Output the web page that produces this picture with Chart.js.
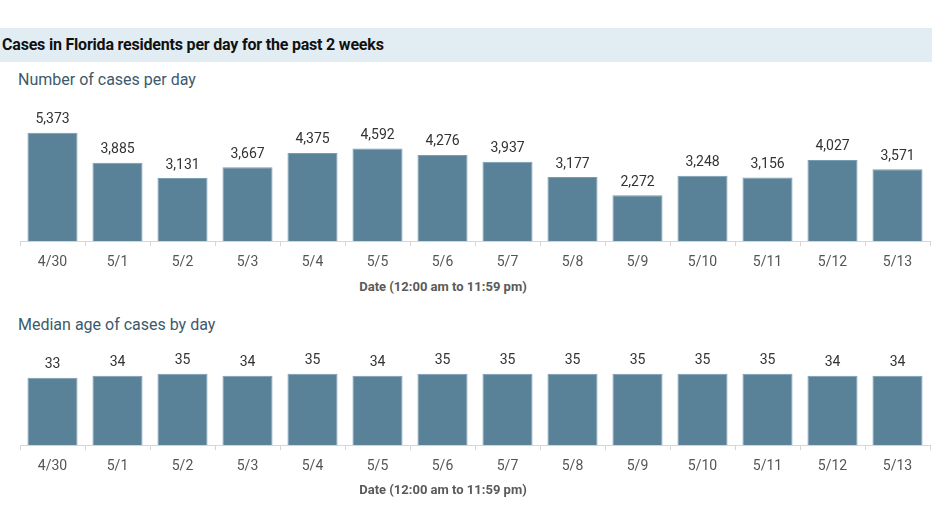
<!DOCTYPE html>
<html>
<head>
<meta charset="utf-8">
<script src="https://cdn.jsdelivr.net/npm/chart.js@4"></script>
<style>
  body { margin: 0; background: #fff; font-family: Roboto, sans-serif; }
  #wrap { position: relative; width: 932px; height: 524px; overflow: hidden; }
  .band { position: absolute; left: 0; top: 28px; width: 932px; height: 34px; background: #e2ecf3; }
  .band span { position: absolute; left: 2px; top: 7px; font-size: 16px; font-weight: bold; color: #111; letter-spacing: -0.2px; }
  .sub { position: absolute; left: 18px; font-size: 16px; color: #3c5a6b; }
  .axt { position: absolute; left: 357px; width: 172px; text-align: center; font-size: 13px; font-weight: bold; color: #5a5a5a; }
  .box { position: absolute; left: 0; width: 932px; }
</style>
</head>
<body>
<div id="wrap">
  <div class="band"><span>Cases in Florida residents per day for the past 2 weeks</span></div>
  <div class="sub" style="top:70px">Number of cases per day</div>
  <div class="box" style="top:87px;height:192px"><canvas id="casesChart"></canvas></div>
  <div class="axt" style="top:279px">Date (12:00 am to 11:59 pm)</div>
  <div class="sub" style="top:315px">Median age of cases by day</div>
  <div class="box" style="top:330px;height:153px"><canvas id="ageChart"></canvas></div>
  <div class="axt" style="top:482px">Date (12:00 am to 11:59 pm)</div>
</div>
<script>
// values
const days = ["4/30","5/1","5/2","5/3","5/4","5/5","5/6","5/7","5/8","5/9","5/10","5/11","5/12","5/13"];
const casesPerDay = [5373,3885,3131,3667,4375,4592,4276,3937,3177,2272,3248,3156,4027,3571];
const medianAge = [33,34,35,34,35,34,35,35,35,35,35,35,34,34];

const barColor = 'rgb(89,129,152)';

// writes the value above each bar
const valueLabels = {
    id: 'valueLabels',
    afterDatasetsDraw(chart) {
        const ctx = chart.ctx;
        const meta = chart.getDatasetMeta(0);
        const vals = chart.data.datasets[0].data;
        ctx.save();
        ctx.font = '14px Roboto, sans-serif';
        ctx.fillStyle = '#333';
        ctx.textAlign = 'center';
        ctx.textBaseline = 'bottom';
        meta.data.forEach(function(bar, i) {
            ctx.fillText(vals[i].toLocaleString('en-US'), bar.x, bar.y - 6);
        });
        ctx.restore();
    }
};

function makeChart(id, values, yMax, topPad) {
    var ctx = document.getElementById(id).getContext('2d');
    return new Chart(ctx, {
        type: 'bar',
        data: {
            labels: days,
            datasets: [{
                data: values,
                backgroundColor: barColor,
                borderColor: 'rgb(120,156,178)',
                borderWidth: 1,
                barPercentage: 0.77,
                categoryPercentage: 1
            }]
        },
        options: {
            responsive: true,
            maintainAspectRatio: false,
            animation: false,
            layout: { padding: { left: 20, right: 2, top: topPad, bottom: 0 } },
            plugins: { legend: { display: false }, tooltip: { enabled: false } },
            scales: {
                y: { display: false, min: 0, max: yMax },
                x: {
                    grid: {
                        offset: true,
                        drawOnChartArea: false,
                        drawTicks: true,
                        tickLength: 5,
                        color: '#d6d6d6'
                    },
                    border: { display: true, color: '#d6d6d6' },
                    ticks: {
                        padding: 8,
                        color: '#555',
                        font: { family: 'Roboto, sans-serif', size: 14 }
                    }
                }
            }
        },
        plugins: [valueLabels]
    });
}

var casesChart = makeChart('casesChart', casesPerDay, 7000, 13);
var ageChart = makeChart('ageChart', medianAge, 50, 13);
</script>
</body>
</html>
